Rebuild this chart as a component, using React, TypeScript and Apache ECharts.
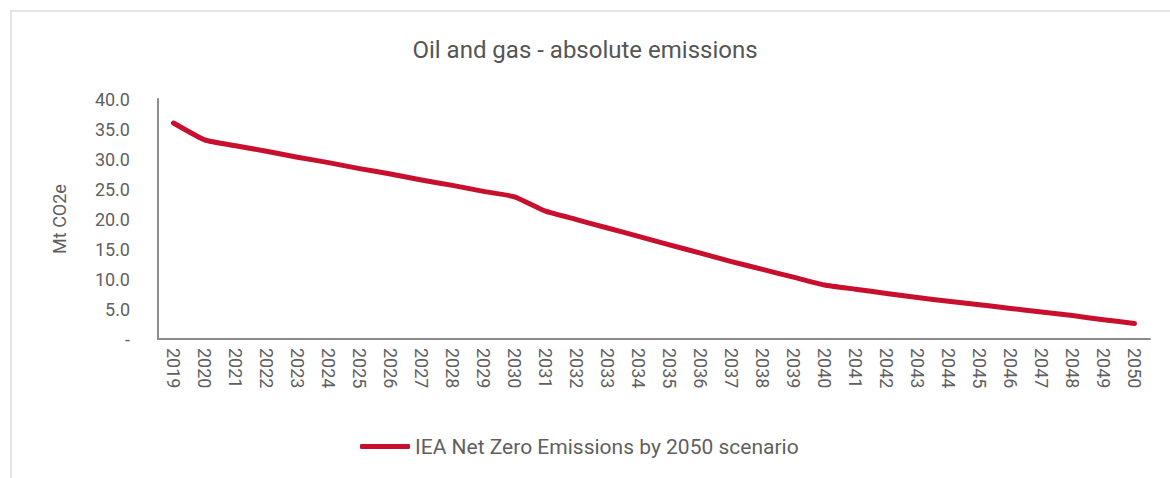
import React, { useEffect, useRef } from "react";
import * as echarts from "echarts";

const years = [
  "2019", "2020", "2021", "2022", "2023", "2024", "2025", "2026", "2027", "2028", "2029",
  "2030", "2031", "2032", "2033", "2034", "2035", "2036", "2037", "2038", "2039", "2040",
  "2041", "2042", "2043", "2044", "2045", "2046", "2047", "2048", "2049", "2050",
];
const netZero = [
  36.0, 33.2, 32.2, 31.3, 30.3, 29.4, 28.4, 27.5, 26.5, 25.6, 24.6,
  23.7, 21.3, 19.9, 18.5, 17.1, 15.7, 14.3, 12.9, 11.6, 10.3, 9.0,
  8.3, 7.6, 6.9, 6.3, 5.7, 5.1, 4.5, 3.9, 3.2, 2.6,
];
const seriesName = "IEA Net Zero Emissions by 2050 scenario";
const titleText = "Oil and gas - absolute emissions";
const yAxisName = "Mt CO2e";

const FONT = "Roboto, 'Liberation Sans', sans-serif";
const TEXT = "#5f5f5f";

export default function App() {
  const ref = useRef<HTMLDivElement>(null);
  useEffect(() => {
    if (!ref.current) return;
    const chart = echarts.init(ref.current, undefined, { renderer: "svg" });
    chart.setOption({
      animation: false,
      backgroundColor: "#ffffff",
      textStyle: { fontFamily: FONT },
      title: {
        text: titleText,
        left: "center",
        top: 33,
        textStyle: { fontFamily: FONT, fontSize: 24, fontWeight: "normal", color: "#555555" },
      },
      graphic: [
        {
          type: "rect",
          shape: { x: 11, y: 11, width: 1300, height: 600 },
          style: { fill: "none", stroke: "#dcdcdc", lineWidth: 1.5 },
          silent: true,
          z: -10,
        },
      ],
      legend: {
        show: true,
        left: 355,
        top: 431,
        icon: "roundRect",
        itemWidth: 50,
        itemHeight: 5,
        itemGap: 10,
        textStyle: { fontFamily: FONT, fontSize: 21, color: TEXT, padding: [0, 0, 0, 0] },
      },
      grid: { left: 158, right: 20, top: 99, bottom: 139, containLabel: false },
      xAxis: {
        type: "category",
        data: years,
        boundaryGap: true,
        axisLine: { lineStyle: { color: "#8c8c8c", width: 2 } },
        axisTick: { show: false },
        axisLabel: {
          interval: 0,
          rotate: -90,
          margin: 9,
          fontFamily: FONT,
          fontSize: 18,
          color: TEXT,
        },
      },
      yAxis: {
        type: "value",
        min: 0,
        max: 40,
        interval: 5,
        name: yAxisName,
        nameLocation: "middle",
        nameGap: 90,
        nameRotate: 90,
        nameTextStyle: { fontFamily: FONT, fontSize: 18, color: TEXT },
        axisLine: { show: true, lineStyle: { color: "#8c8c8c", width: 2 } },
        axisTick: { show: false },
        splitLine: { show: false },
        axisLabel: {
          margin: 28,
          fontFamily: FONT,
          fontSize: 18,
          color: TEXT,
          formatter: (v: number) => (v === 0 ? "-" : v.toFixed(1)),
        },
      },
      series: [
        {
          name: seriesName,
          type: "line",
          data: netZero,
          symbol: "none",
          smooth: 0.15,
          lineStyle: { color: "#c8102e", width: 5, cap: "round", join: "round" },
          itemStyle: { color: "#c8102e" },
        },
      ],
    });
    return () => chart.dispose();
  }, []);
  return (
    <div
      ref={ref}
      style={{ position: "fixed", left: 0, top: 0, width: 1170, height: 478 }}
    />
  );
}
